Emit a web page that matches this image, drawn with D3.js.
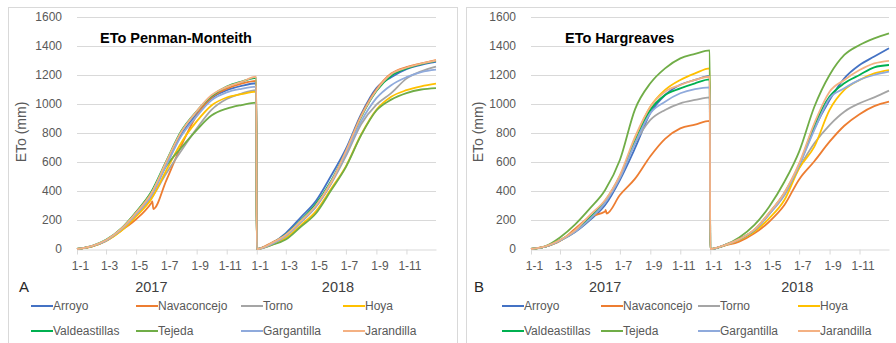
<!DOCTYPE html>
<html>
<head>
<meta charset="utf-8">
<script src="https://cdn.jsdelivr.net/npm/d3@7"></script>
<style>
  body { margin: 0; background: #fff; }
  svg { font-family: "Liberation Sans", Arial, sans-serif; }
</style>
</head>
<body>
<div id="chart"></div>
<script>
const W = 896, H = 343;

// stations, in legend order
const stations = ["Arroyo", "Navaconcejo", "Torno", "Hoya", "Valdeastillas", "Tejeda", "Gargantilla", "Jarandilla"];
const colors = ["#4472C4", "#ED7D31", "#A5A5A5", "#FFC000", "#00B050", "#70AD47", "#8FAADC", "#F4B183"];

// sample days of each year (1st of each month + 31 Dec)
const sampleDays = ["01-01", "02-01", "03-01", "04-01", "05-01", "06-01", "07-01", "08-01", "09-01", "10-01", "11-01", "12-01", "12-31"];
const tickDays = ["01-01", "03-01", "05-01", "07-01", "09-01", "11-01"];
const years = [2017, 2018];
const yTicks = [0, 200, 400, 600, 800, 1000, 1200, 1400, 1600];

// cumulative ETo (mm), Penman-Monteith
const pm2017 = [
  [0, 20, 58, 135, 240, 370, 580, 790, 930, 1040, 1095, 1125, 1143],
  [0, 18, 55, 128, 205, 318, 470, 715, 920, 1045, 1105, 1140, 1160],
  [0, 20, 57, 130, 232, 350, 520, 680, 830, 960, 1035, 1072, 1095],
  [0, 18, 55, 125, 225, 345, 540, 735, 880, 990, 1045, 1068, 1085],
  [0, 22, 63, 142, 255, 395, 605, 815, 950, 1055, 1120, 1155, 1180],
  [0, 20, 60, 140, 255, 390, 570, 700, 820, 920, 968, 993, 1010],
  [0, 20, 58, 135, 240, 370, 575, 780, 915, 1025, 1080, 1105, 1120],
  [0, 22, 62, 140, 250, 385, 600, 810, 950, 1060, 1118, 1152, 1188]
];
const pm2018 = [
  [0, 40, 110, 220, 330, 505, 690, 930, 1110, 1185, 1240, 1270, 1290],
  [0, 45, 95, 190, 295, 455, 670, 920, 1100, 1210, 1255, 1280, 1303],
  [0, 35, 88, 185, 290, 450, 640, 860, 995, 1075, 1175, 1225, 1258],
  [0, 30, 75, 165, 260, 415, 570, 790, 960, 1050, 1095, 1122, 1140],
  [0, 40, 100, 200, 310, 470, 670, 910, 1090, 1195, 1245, 1275, 1297],
  [0, 28, 65, 155, 245, 405, 565, 785, 955, 1030, 1075, 1100, 1110],
  [0, 35, 92, 190, 295, 460, 660, 880, 1040, 1130, 1185, 1220, 1237],
  [0, 42, 98, 195, 300, 460, 675, 915, 1095, 1205, 1250, 1278, 1300]
];
// cumulative ETo (mm), Hargreaves
const hg2017 = [
  [0, 18, 58, 118, 200, 303, 476, 697, 937, 1062, 1133, 1166, 1193],
  [0, 18, 55, 140, 222, 258, 372, 485, 640, 760, 832, 858, 883],
  [0, 18, 60, 125, 215, 330, 500, 730, 890, 959, 1005, 1028, 1046],
  [0, 18, 58, 122, 210, 325, 495, 760, 981, 1097, 1166, 1211, 1246],
  [0, 18, 60, 125, 215, 330, 500, 740, 959, 1062, 1108, 1143, 1170],
  [0, 22, 80, 170, 280, 407, 614, 965, 1143, 1246, 1315, 1345, 1370],
  [0, 18, 58, 120, 208, 320, 490, 731, 937, 1016, 1074, 1103, 1115],
  [0, 20, 62, 130, 234, 338, 510, 775, 981, 1085, 1131, 1166, 1188]
];
const hg2018 = [
  [0, 28, 67, 131, 246, 384, 579, 830, 1028, 1177, 1269, 1327, 1384],
  [0, 25, 51, 108, 188, 303, 480, 605, 740, 850, 930, 985, 1016],
  [0, 28, 65, 128, 240, 370, 560, 729, 855, 947, 1005, 1046, 1092],
  [0, 26, 62, 120, 212, 338, 557, 706, 959, 1097, 1166, 1211, 1234],
  [0, 28, 67, 131, 246, 384, 579, 855, 1051, 1143, 1200, 1253, 1269],
  [0, 30, 80, 166, 292, 464, 672, 981, 1200, 1338, 1407, 1453, 1487],
  [0, 28, 66, 130, 240, 378, 575, 821, 1040, 1108, 1166, 1200, 1223],
  [0, 28, 68, 135, 250, 390, 590, 867, 1085, 1166, 1234, 1280, 1298]
];
// the dip in the Navaconcejo record early June 2017
const pmNavDip = [["2017-06-03", 328], ["2017-06-05", 276]];
const hgNavDip = [["2017-06-02", 270], ["2017-06-04", 245]];

const parse = d3.timeParse("%Y-%m-%d");
const fmt = d3.timeFormat("%-d-%-m");

const panels = [
  { title: "ETo Penman-Monteith", tag: "A", d17: pm2017, d18: pm2018, dip: pmNavDip,
    x0: 77, x1: 436, box: [8, 457], titleX: 100, tagX: 19, yLabX: 21,
    legX: [31, 136, 241, 343], yearShift: [0, 0] },
  { title: "ETo Hargreaves", tag: "B", d17: hg2017, d18: hg2018, dip: hgNavDip,
    x0: 531, x1: 889, box: [466, 910], titleX: 565, tagX: 474, yLabX: 478,
    legX: [502, 601, 698, 798], yearShift: [0, 6] }
];

const svg = d3.select('#chart').append('svg')
  .attr('width', W)
  .attr('height', H);

const y = d3.scaleLinear().domain([0, 1600]).range([249, 17]);
const line = d3.line()
  .x(d => d.xs)
  .y(d => y(d.v))
  .curve(d3.curveMonotoneX);

panels.forEach((p) => {
  const g = svg.append('g');

  // panel frame
  g.append('rect')
    .attr('x', p.box[0] + .5).attr('y', 7.5)
    .attr('width', p.box[1] - p.box[0]).attr('height', H)
    .style('fill', 'none').style('stroke', '#d9d9d9');

  const x = d3.scaleTime()
    .domain([parse("2017-01-01"), parse("2018-12-31")])
    .range([p.x0, p.x1]);

  // grid
  g.append('g').selectAll('line')
    .data(yTicks.filter(t => t > 0))
    .enter().append('line')
    .attr('x1', p.x0).attr('x2', p.x1)
    .attr('y1', d => Math.round(y(d)) + .5).attr('y2', d => Math.round(y(d)) + .5)
    .style('stroke', '#d9d9d9');

  const yAxis = g.append('g')
    .attr('transform', `translate(${p.x0},0)`)
    .call(d3.axisLeft(y).tickValues(yTicks).tickFormat(d3.format('d')).tickSize(0).tickPadding(15));
  yAxis.select('.domain').remove();
  yAxis.selectAll('text').style('font-size', '12px').style('fill', '#595959')
    .style('font-family', '"Liberation Sans", Arial, sans-serif');

  const tickDates = [];
  years.forEach(yr => tickDays.forEach(d => tickDates.push(parse(`${yr}-${d}`))));
  const xAxis = g.append('g')
    .attr('transform', `translate(0,${Math.round(y(0)) + .5})`)
    .call(d3.axisBottom(x).tickValues(tickDates).tickFormat(fmt).tickSize(5).tickSizeOuter(0).tickPadding(7));
  xAxis.select('.domain').style('stroke', '#d9d9d9');
  xAxis.selectAll('.tick line').style('stroke', '#d9d9d9');
  xAxis.selectAll('text').style('font-size', '12px').style('fill', '#595959')
    .style('font-family', '"Liberation Sans", Arial, sans-serif')
    .attr('dx', 3);

  // year labels under the months
  years.forEach((yr, i) => {
    g.append('text')
      .attr('x', x(parse(i === 0 ? `${yr}-06-01` : `${yr}-06-15`)) + p.yearShift[i])
      .attr('y', 292)
      .attr('text-anchor', 'middle')
      .style('font-size', '14.5px')
      .style('fill', '#404040')
      .text(yr);
  });

  g.append('text')
    .attr('x', p.tagX).attr('y', 292)
    .style('font-size', '15px').style('fill', '#262626')
    .text(p.tag);

  g.append('text')
    .attr('transform', `translate(${p.yLabX + 5},132) rotate(-90)`)
    .attr('text-anchor', 'middle')
    .style('font-size', '14px').style('fill', '#595959')
    .text('ETo (mm)');

  g.append('text')
    .attr('x', p.titleX).attr('y', 43)
    .style('font-size', '14.5px').style('font-weight', 'bold').style('fill', '#000')
    .text(p.title);

  // series
  const series = stations.map((name, si) => {
    let pts = [];
    [p.d17, p.d18].forEach((vals, yi) => {
      vals[si].forEach((v, k) => pts.push({ date: parse(`${years[yi]}-${sampleDays[k]}`), v }));
    });
    if (name === "Navaconcejo") {
      p.dip.forEach(([d, v]) => pts.push({ date: parse(d), v }));
      pts.sort((a, b) => a.date - b.date);
    }
    pts.forEach(d => d.xs = x(d.date));
    return { name, color: colors[si], pts };
  });

  g.append('g').selectAll('path')
    .data(series)
    .enter().append('path')
    .attr('d', d => line(d.pts))
    .style('fill', 'none')
    .style('stroke', d => d.color)
    .style('stroke-width', 1.8)
    .style('stroke-linejoin', 'round');

  // legend, 4 per row
  const leg = g.append('g');
  series.forEach((s, i) => {
    const lx = p.legX[i % 4];
    const ly = 306 + Math.floor(i / 4) * 25;
    leg.append('line')
      .attr('x1', lx).attr('x2', lx + 22)
      .attr('y1', ly).attr('y2', ly)
      .style('stroke', s.color).style('stroke-width', 2);
    leg.append('text')
      .attr('x', lx + 22).attr('y', ly + 4)
      .style('font-size', '12px').style('fill', '#595959')
      .text(s.name);
  });
});
</script>
</body>
</html>
